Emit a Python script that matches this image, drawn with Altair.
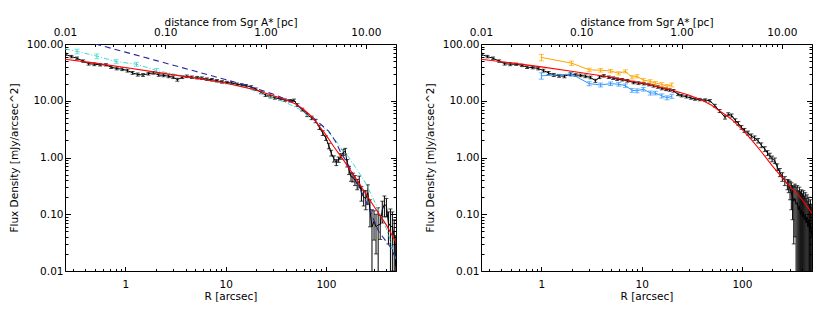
import altair as alt
import pandas as pd

# ---------------- data ----------------
# Left panel: black profile
LB_R = [0.25,0.29,0.33,0.38,0.43,0.49,0.56,0.64,0.72,0.82,0.93,1.05,1.18,1.33,1.5,1.7,1.9,2.15,2.4,2.7,
        3.0,3.3,3.7,4.1,4.6,5.2,5.8,6.5,7.3,8.2,9.2,10.3,11.5,13,14.5,16,18,20,22.5,25,
        28,31,35,39,44,48,52,58,65,72,79,86,93,100,107,113,120,127,134,141,
        149,156,163,170,178,186,195,205,215,226,238,250,262,275,288,302,316,332,348,365,
        383,401,420,440,460,480,497]
LB_F = [66,60,56,50,45,44,43,43,39,37,36,34,31,29,28.5,30,31,28.5,28,27,
        26,23.5,26,27,26,25.5,25,24,23.5,22.5,21.5,21,20.5,19.5,19,18.4,17.5,16,14,12.5,
        11.8,11.2,10.8,10.3,10.0,10.2,8.4,7.0,5.6,5.0,4.4,3.4,2.7,2.2,1.6,1.2,0.95,0.82,0.92,1.05,
        1.23,1.3,0.8,0.6,0.46,0.45,0.40,0.34,0.38,0.24,0.20,0.19,0.24,0.12,0.06,0.075,0.06,0.065,0.066,0.12,
        0.15,0.14,0.07,0.062,0.06,0.04,0.012]
LB_E = [3,3,3,2.5,2.5,2.5,2,2,2,2,2,2,1.8,1.8,1.6,1.6,1.6,1.5,1.5,1.5,
        1.4,1.4,1.4,1.4,1.3,1.3,1.3,1.2,1.2,1.1,1.1,1.0,1.0,1.0,0.9,0.9,0.9,0.8,0.7,0.6,
        0.6,0.55,0.5,0.5,0.5,0.5,0.45,0.4,0.35,0.35,0.3,0.3,0.25,0.2,0.18,0.14,0.12,0.1,0.1,0.12,
        0.15,0.15,0.12,0.1,0.08,0.08,0.08,0.07,0.09,0.07,0.06,0.07,0.09,0.06,0.06,0.04,0.04,0.065,0.03,0.05,
        0.06,0.05,0.04,0.062,0.05,0.04,0.03]

# Left panel: cyan dash-dot profile, with error bars at the inner points
LC_R = [0.25,0.33,0.52,0.81,1.29,2.05,3.5,6,10,16,25,40,55,70,85,100,120,140,170,200,250,300,360,420,470,500]
LC_F = [82,74,61,49,44,34,28,24,20.5,17,12.5,9.3,7.0,5.0,4.0,3.1,2.2,1.5,1.0,0.65,0.35,0.18,0.09,0.045,0.022,0.016]
CE_R = [0.33,0.52,0.81,1.29,2.05]
CE_F = [74,61,49,44,34]
CE_E = [7,6,4,3.5,3]

# Left panel: navy dashed model
LN_R = [0.5,1,2,5,11,20,30,45,60,75,88,107,125,140,160,176,200,250,300,335,390,450,500]
LN_F = [100,72,51.5,33,22.5,16.5,13,9.8,6.8,5.0,3.9,2.9,1.9,1.25,0.85,0.63,0.4,0.17,0.08,0.05,0.035,0.025,0.016]

# Left panel: red model
LR_R = [0.25,0.5,1,2,5,10,20,30,40,50,60,70,80,90,100,120,150,200,300,400,500]
LR_F = [54,46,38.5,32,25,20.5,15.5,12.3,10.3,8.8,7.0,5.5,4.2,3.2,2.5,1.55,0.9,0.42,0.14,0.065,0.032]

# Right panel: black profile
RB_R = [0.25,0.29,0.33,0.38,0.43,0.49,0.56,0.64,0.72,0.82,0.93,1.05,1.18,1.33,1.5,1.7,1.95,2.2,2.46,2.75,
        3.09,3.46,3.8,4.19,4.7,5.2,5.7,6.4,7.2,8.3,9.3,10.5,11.8,13.1,14.5,15.9,17.5,19,20.8,23,
        25,28,31,34,38,43,48,53.8,60,67.9,73,79,86,92,99,106,115,124,134,145,
        156,169,180,190,200,213,225,239,253,268,284,293,302,311,320,329,338,347,356,365,
        374,383,392,401,410,419,428,437,446,455,464,473,482,491,500]
RB_F = [66,60,56,50,45,44,44,42,39,38.5,37,34,31,28.5,27.5,27,29.5,28.5,28,27,
        25.8,22.5,26,27.5,26,25,24,23.5,22.5,21,20.5,20,19.3,18.4,17.5,16.5,16,15.5,15,13,
        12.3,11.8,11.2,10.7,10.5,10.3,10.0,8.2,6.6,5.1,5.8,5.5,4.5,4.0,3.4,3.0,2.7,2.4,2.2,1.98,
        1.65,1.41,1.2,1.07,0.95,0.88,0.68,0.55,0.46,0.39,0.34,0.32,0.28,0.24,0.2,0.17,0.19,0.15,0.16,0.12,
        0.14,0.1,0.12,0.09,0.11,0.08,0.1,0.07,0.09,0.06,0.08,0.05,0.07,0.05,0.04]
RB_E = [3,3,3,2.5,2.5,2.5,2,2,2,2,2,2,1.8,1.8,1.6,1.6,1.6,1.5,1.5,1.5,
        1.4,1.4,1.4,1.4,1.3,1.3,1.3,1.2,1.2,1.1,1.1,1.0,1.0,1.0,0.9,0.9,0.9,0.8,0.8,0.7,
        0.6,0.6,0.55,0.5,0.5,0.5,0.5,0.45,0.4,0.35,0.35,0.35,0.3,0.3,0.25,0.25,0.22,0.2,0.2,0.18,
        0.16,0.14,0.12,0.12,0.11,0.1,0.09,0.09,0.08,0.07,0.07,0.08,0.1,0.12,0.12,0.14,0.15,0.15,0.16,0.14,
        0.16,0.15,0.15,0.14,0.15,0.13,0.14,0.12,0.13,0.11,0.12,0.1,0.11,0.1,0.09]

# Right panel: red model
RR_R = [0.25,0.5,1,2,5,10,20,30,40,50,60,70,80,100,125,157,200,250,300,350,400,450,500]
RR_F = [54,46.5,39.5,33,26,20.5,15.5,12.5,10.2,8.3,6.6,5.5,4.6,3.15,2.05,1.25,0.72,0.45,0.31,0.235,0.18,0.135,0.103]

# Right panel: orange and blue profiles
RO_R = [1.0,2.0,3.0,3.9,4.9,5.9,6.9,8.0,9.0,10.4,12.2,13.7,15.9,17.9,20.0]
RO_F = [58,46,35,34.5,33.5,30.5,33,26,27,23,22,20.5,19.5,18,19]
RO_E = [7.5,4,2.5,2.5,2.2,2,2,1.8,1.8,1.6,1.5,1.4,1.4,1.3,1.5]
RBL_F = [27.5,29.5,20,19,20,19.5,18.5,15.3,15,16,13.7,13.7,12.2,11.3,12]
RBL_E = [3.5,2.5,1.6,1.5,1.5,1.4,1.3,1.2,1.2,1.2,1.1,1.0,1.0,0.9,1.0]

# axis tick labels
X_LABELS = [1, 10, 100]
Y_LABELS = [0.01, 0.1, 1, 10, 100]
PC_LABELS = [0.01, 0.1, 1, 10]
PC_PER_ARCSEC = 0.04

# ---------------- helpers ----------------
W, H = 331, 227
FONT = "DejaVu Sans"
FS = 10.5
XDOM = [0.25, 500]
YDOM = [0.01, 100]
PCDOM = [XDOM[0] * PC_PER_ARCSEC, XDOM[1] * PC_PER_ARCSEC]
MAJ, MIN = 4.5, 2.5


def decade_ticks(lo, hi, major):
    out = []
    for e in range(-3, 4):
        for k in range(1, 10):
            v = round(k * 10 ** e, 6)
            if lo * 0.999 <= v <= hi * 1.001 and ((k == 1) == major):
                out.append(v)
    return out


def tick_axis(orient, offset, values, size):
    return alt.Axis(orient=orient, offset=offset, values=values, labels=False, domain=False,
                    grid=False, title=None, tickSize=size, tickColor="black", tickWidth=1, minExtent=0)


AX_X_LAB = alt.Axis(values=X_LABELS, format="d", ticks=False, domain=False, grid=False,
                    labelPadding=8, title="R [arcsec]", titlePadding=2, minExtent=0,
                    labelFlush=False, labelOverlap=False)
AX_Y_LAB = alt.Axis(values=Y_LABELS, format=".2f", ticks=False, domain=False, grid=False,
                    labelPadding=2, title="Flux Density [mJy/arcsec^2]", titlePadding=7, minExtent=0,
                    labelFlush=False, labelOverlap=False)
AX_PC_LAB = alt.Axis(orient="top", values=PC_LABELS, format=".2f", ticks=False, domain=False,
                     grid=False, labelPadding=6.5, title="distance from Sgr A* [pc]", titlePadding=0.5,
                     minExtent=0, labelFlush=False, labelOverlap=False)

XB_MAJ = tick_axis("top", -H, decade_ticks(*XDOM, True), MAJ)
XB_MIN = tick_axis("top", -H, decade_ticks(*XDOM, False), MIN)
XT_MAJ = tick_axis("bottom", -H, decade_ticks(*PCDOM, True), MAJ)
XT_MIN = tick_axis("bottom", -H, decade_ticks(*PCDOM, False), MIN)
YL_MAJ = tick_axis("right", -W, decade_ticks(*YDOM, True), MAJ + 1)
YL_MIN = tick_axis("right", -W, decade_ticks(*YDOM, False), MIN + 0.5)
YR_MAJ = tick_axis("left", -W, decade_ticks(*YDOM, True), MAJ + 1)
YR_MIN = tick_axis("left", -W, decade_ticks(*YDOM, False), MIN + 0.5)


def xs():
    return alt.Scale(type="log", domain=XDOM)


def ys():
    return alt.Scale(type="log", domain=YDOM)


def pcs():
    return alt.Scale(type="log", domain=PCDOM)


def err_df(R, F, E):
    return pd.DataFrame({"R": R, "F": F,
                         "lo": [max(f - e, 0.002) for f, e in zip(F, E)],
                         "hi": [f + e for f, e in zip(F, E)]})


def errbars(df, color, cap):
    base = alt.Chart(df)
    ex = alt.X("R:Q", scale=xs(), axis=None)
    rule = base.mark_rule(color=color, strokeWidth=1, clip=True).encode(
        x=ex, y=alt.Y("lo:Q", scale=ys(), axis=None), y2="hi:Q")
    lo = base.mark_tick(color=color, orient="horizontal", size=cap, thickness=1, clip=True).encode(
        x=ex, y=alt.Y("lo:Q", scale=ys(), axis=None))
    hi = base.mark_tick(color=color, orient="horizontal", size=cap, thickness=1, clip=True).encode(
        x=ex, y=alt.Y("hi:Q", scale=ys(), axis=None))
    return [rule, lo, hi]


def line(R, F, color, width=1.0, dash=None, axes=False):
    kw = dict(color=color, strokeWidth=width, clip=True)
    if dash:
        kw["strokeDash"] = dash
    return alt.Chart(pd.DataFrame({"R": R, "F": F})).mark_line(**kw).encode(
        x=alt.X("R:Q", scale=xs(), axis=AX_X_LAB if axes else None),
        y=alt.Y("F:Q", scale=ys(), axis=AX_Y_LAB if axes else None))


def carrier(R, F, x_axis, y_axis, pc=False):
    """Invisible copy of the model curve whose only role is to carry axes."""
    ch = alt.Chart(pd.DataFrame({"R": R, "F": F}))
    if pc:
        ch = ch.transform_calculate(pc=f"datum.R * {PC_PER_ARCSEC}")
        xe = alt.X("pc:Q", scale=pcs(), axis=x_axis)
    else:
        xe = alt.X("R:Q", scale=xs(), axis=x_axis)
    return ch.mark_line(opacity=0).encode(x=xe, y=alt.Y("F:Q", scale=ys(), axis=y_axis))


def panel(bR, bF, bE, rR, rF, extra):
    layers = errbars(err_df(bR, bF, bE), "black", 4)
    layers.append(line(bR, bF, "black", 1.0, axes=True))
    layers += extra
    layers.append(line(rR, rF, "#ff0000", 1.1))
    layers += [
        carrier(rR, rF, XB_MAJ, YL_MAJ),
        carrier(rR, rF, XB_MIN, YL_MIN),
        carrier(rR, rF, AX_PC_LAB, YR_MAJ, pc=True),
        carrier(rR, rF, XT_MAJ, YR_MIN, pc=True),
        carrier(rR, rF, XT_MIN, None, pc=True),
    ]
    return alt.layer(*layers).resolve_scale(x="independent").resolve_axis(
        x="independent", y="independent").properties(width=W, height=H)


CYAN = "#3fd9cf"
NAVY = "#26269a"
ORANGE = "#ffa500"
BLUE = "#3399ff"

left_extra = [line(LC_R, LC_F, CYAN, 1.0, dash=[5, 2, 1, 2])] + errbars(err_df(CE_R, CE_F, CE_E), CYAN, 5) + [
    line(LN_R, LN_F, NAVY, 1.1, dash=[6, 4])]
right_extra = [line(RO_R, RO_F, ORANGE, 1.0)] + errbars(err_df(RO_R, RO_F, RO_E), ORANGE, 5) + [
    line(RO_R, RBL_F, BLUE, 1.0)] + errbars(err_df(RO_R, RBL_F, RBL_E), BLUE, 5)

left = panel(LB_R, LB_F, LB_E, LR_R, LR_F, left_extra)
right = panel(RB_R, RB_F, RB_E, RR_R, RR_F, right_extra)

chart = alt.hconcat(left, right, spacing=27).properties(
    padding={"left": 0, "top": 8, "right": 5, "bottom": 2}
).configure_view(stroke="black", strokeWidth=1).configure_axis(
    labelFont=FONT, labelFontSize=FS, titleFont=FONT, titleFontSize=FS, titleFontWeight="normal",
    labelColor="black", titleColor="black", tickColor="black")

chart.save("out.html", embed_options={"renderer": "svg", "actions": False})
